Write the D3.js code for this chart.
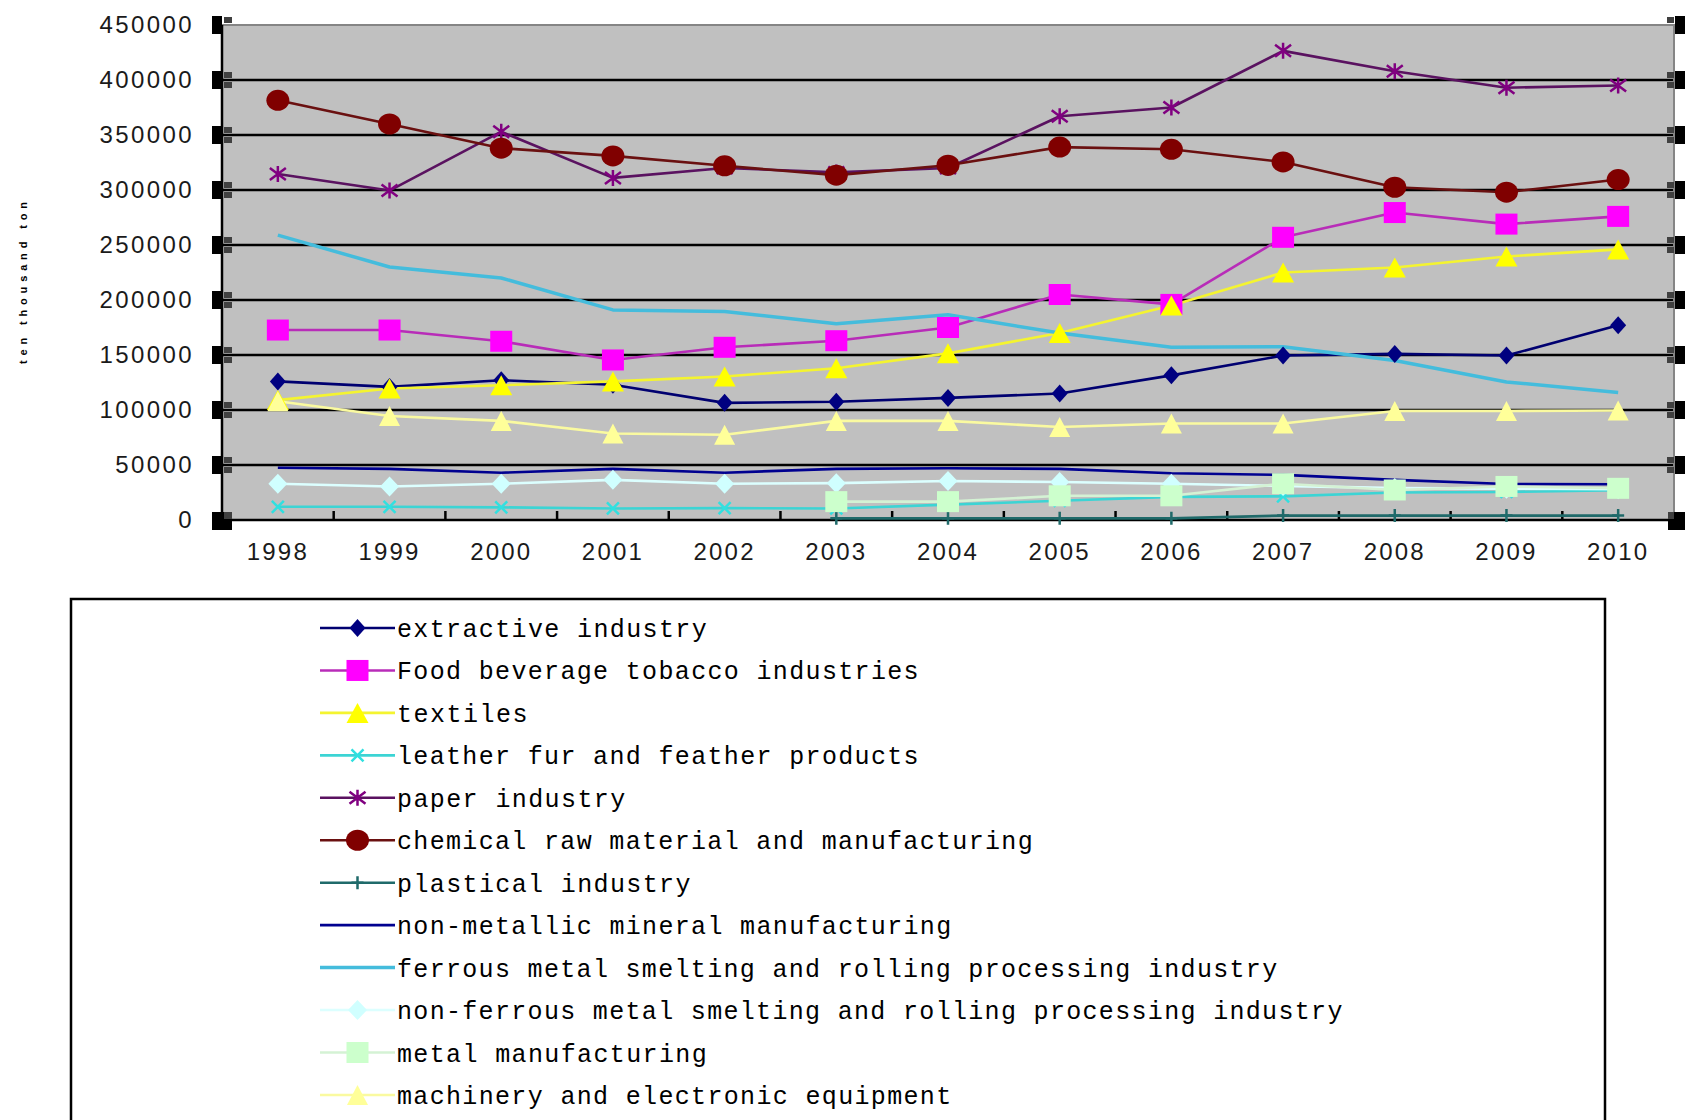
<!DOCTYPE html>
<html>
<head>
<meta charset="utf-8">
<script src="https://cdn.jsdelivr.net/npm/d3@7"></script>
<style>
  html, body { margin: 0; padding: 0; background: #ffffff; }
  svg { display: block; }
</style>
</head>
<body>
<svg id="chart" width="1688" height="1120"></svg>
<script>
// ---- data: output by industry, ten thousand ton, 1998-2010 ----
const years = ["1998", "1999", "2000", "2001", "2002", "2003", "2004",
               "2005", "2006", "2007", "2008", "2009", "2010"];

const extractive  = [126000, 121000, 127000, 123000, 106500, 107500, 111000, 115000, 131500, 149500, 151000, 149500, 177000];
const foodBevTob  = [172700, 172700, 162500, 145500, 157000, 163000, 175000, 205000, 196000, 257000, 279500, 269000, 276000];
const textiles    = [109000, 119500, 122500, 126000, 130500, 138000, 151500, 170000, 195000, 225000, 229500, 239500, 246000];
const leather     = [12000, 12000, 11500, 10500, 10800, 10500, 14000, 17500, 21000, 21500, 25000, 25500, 27000];
const paper       = [314500, 299500, 353000, 311000, 320000, 316000, 320000, 367000, 375000, 426500, 408000, 393000, 395000];
const chemical    = [381500, 360000, 338000, 331000, 322000, 313500, 322500, 339000, 337000, 325500, 302500, 298000, 309500];
const plastical   = [null, null, null, null, null, 1500, 1500, 1500, 1500, 4000, 4000, 4000, 4000];
const nonMetallic = [47500, 46500, 43000, 46500, 43000, 46500, 47000, 46500, 42500, 41000, 36500, 32700, 32500];
const ferrous     = [259000, 230000, 220000, 191000, 189500, 178500, 186500, 170000, 157000, 157500, 145000, 125500, 116000];
const nonFerrous  = [33000, 30500, 33000, 36500, 33000, 33500, 35500, 34500, 33000, 31000, 29000, 28500, 28000];
const metalMfg    = [null, null, null, null, null, 16700, 16700, 22000, 22000, 33000, 27300, 30500, 28800];
const machinery   = [108000, 94600, 90100, 78700, 77500, 90100, 90100, 84500, 87700, 87700, 99100, 99100, 99500];

const seriesNames = [
  "extractive industry",
  "Food beverage tobacco industries",
  "textiles",
  "leather fur and feather products",
  "paper industry",
  "chemical raw material and manufacturing",
  "plastical industry",
  "non-metallic mineral manufacturing",
  "ferrous metal smelting and rolling processing industry",
  "non-ferrous metal smelting and rolling processing industry",
  "metal manufacturing",
  "machinery and electronic equipment"
];
const seriesValues = [extractive, foodBevTob, textiles, leather, paper, chemical,
                      plastical, nonMetallic, ferrous, nonFerrous, metalMfg, machinery];

const yTickValues = [0, 50000, 100000, 150000, 200000, 250000, 300000, 350000, 400000, 450000];
const yAxisTitle = "ten thousand ton";

// ---- appearance of each series ----
const looks = [
  { line: "#000070", mark: "#000080", shape: "diamond",  w: 16, h: 18, lw: 2.6 },
  { line: "#b82cb8", mark: "#ff00ff", shape: "square",   w: 22, h: 21, lw: 2.6 },
  { line: "#f4f430", mark: "#ffff00", shape: "triangle", w: 22, h: 20, lw: 2.6 },
  { line: "#3cd4d4", mark: "#30e0e0", shape: "cross",    w: 12, h: 12, lw: 2.6 },
  { line: "#5a1260", mark: "#800080", shape: "asterisk", w: 16, h: 16, lw: 2.6 },
  { line: "#6a1010", mark: "#800000", shape: "circle",   w: 23, h: 21, lw: 2.6 },
  { line: "#1f6a6a", mark: "#1f6a6a", shape: "plus",     w: 12, h: 13, lw: 2.6 },
  { line: "#000090", mark: "#000090", shape: "none",     w: 0,  h: 0,  lw: 2.6 },
  { line: "#44bcdc", mark: "#44bcdc", shape: "none",     w: 0,  h: 0,  lw: 3.5 },
  { line: "#dcffff", mark: "#d0ffff", shape: "diamond",  w: 19, h: 20, lw: 2.6 },
  { line: "#d4f2d4", mark: "#ccffcc", shape: "square",   w: 22, h: 21, lw: 2.6 },
  { line: "#fafaa0", mark: "#ffff99", shape: "triangle", w: 21, h: 20, lw: 2.6 }
];

// ---- layout ----
const P = { left: 222, right: 1674, top: 25, bottom: 520 };
const svg = d3.select("#chart");

const x = d3.scaleBand().domain(years).range([P.left, P.right]).padding(0);
const y = d3.scaleLinear().domain([0, 450000]).range([P.bottom, P.top]);
const cx = yr => x(yr) + x.bandwidth() / 2;

// plot area
svg.append("rect")
  .attr("x", P.left).attr("y", P.top)
  .attr("width", P.right - P.left).attr("height", P.bottom - P.top)
  .attr("fill", "#c0c0c0");

// horizontal gridlines
svg.append("g").selectAll("line")
  .data(yTickValues.filter(v => v > 0 && v < 450000))
  .join("line")
  .attr("x1", P.left).attr("x2", P.right)
  .attr("y1", d => y(d)).attr("y2", d => y(d))
  .attr("stroke", "#000").attr("stroke-width", 2.5);

// plot border (top and right)
svg.append("path")
  .attr("d", `M${P.left},${y(450000)}H${P.right}V${P.bottom}`)
  .attr("fill", "none").attr("stroke", "#858585").attr("stroke-width", 2);

// y axis labels
const yAxis = d3.axisLeft(y).tickValues(yTickValues).tickSize(0).tickPadding(28)
  .tickFormat(d3.format("d"));
const gy = svg.append("g").attr("transform", `translate(${P.left},0)`).call(yAxis);
gy.select(".domain").remove();
gy.selectAll("text")
  .attr("font-family", "'Liberation Sans', Arial, sans-serif")
  .attr("font-size", 24)
  .attr("letter-spacing", 2.4)
  .attr("fill", "#1a1a1a");

// x axis labels
const xAxis = d3.axisBottom(x).tickSize(0).tickPadding(23);
const gx = svg.append("g").attr("transform", `translate(0,${P.bottom})`).call(xAxis);
gx.select(".domain").remove();
gx.selectAll("text")
  .attr("font-family", "'Liberation Sans', Arial, sans-serif")
  .attr("font-size", 24)
  .attr("letter-spacing", 2.2)
  .attr("fill", "#1a1a1a");

// axis lines
svg.append("line")
  .attr("x1", P.left).attr("x2", P.left).attr("y1", P.top).attr("y2", P.bottom)
  .attr("stroke", "#000").attr("stroke-width", 2.5);
svg.append("line")
  .attr("x1", P.left).attr("x2", P.right).attr("y1", P.bottom).attr("y2", P.bottom)
  .attr("stroke", "#000").attr("stroke-width", 2.5);

// category separator ticks on the x axis (pointing into the plot)
svg.append("g").selectAll("line")
  .data(years.slice(1))
  .join("line")
  .attr("x1", d => x(d)).attr("x2", d => x(d))
  .attr("y1", P.bottom).attr("y2", P.bottom - 9)
  .attr("stroke", "#000").attr("stroke-width", 2.5);

// selection handles along the value axis and the right edge
const handles = svg.append("g");
yTickValues.forEach(v => {
  const ty = y(v);
  if (v === 0) {
    handles.append("rect").attr("x", 212).attr("y", ty - 8).attr("width", 20).attr("height", 18).attr("fill", "#000");
    handles.append("rect").attr("x", 224).attr("y", ty - 8).attr("width", 8).attr("height", 7).attr("fill", "#404040");
    handles.append("rect").attr("x", 1668).attr("y", ty - 8).attr("width", 17).attr("height", 18).attr("fill", "#000");
    handles.append("rect").attr("x", 1668).attr("y", ty - 8).attr("width", 6).attr("height", 7).attr("fill", "#404040");
    return;
  }
  handles.append("rect").attr("x", 212).attr("y", ty - 9).attr("width", 10).attr("height", 18).attr("fill", "#000");
  handles.append("rect").attr("x", 224).attr("y", ty - 8).attr("width", 8).attr("height", 6).attr("fill", "#404040");
  if (v !== 450000) {
    handles.append("rect").attr("x", 224).attr("y", ty + 2).attr("width", 8).attr("height", 6).attr("fill", "#404040");
  }
  handles.append("rect").attr("x", 1675).attr("y", ty - 9).attr("width", 10).attr("height", 18).attr("fill", "#000");
  handles.append("rect").attr("x", 1667).attr("y", ty - 8).attr("width", 7).attr("height", 6).attr("fill", "#404040");
  if (v !== 450000) {
    handles.append("rect").attr("x", 1667).attr("y", ty + 2).attr("width", 7).attr("height", 6).attr("fill", "#404040");
  }
});

// y axis title
svg.append("text")
  .attr("transform", "translate(27,283) rotate(-90)")
  .attr("text-anchor", "middle")
  .attr("font-family", "'Liberation Sans', Arial, sans-serif")
  .attr("font-size", 11).attr("font-weight", "bold")
  .attr("textLength", 162).attr("lengthAdjust", "spacing")
  .attr("fill", "#000")
  .text(yAxisTitle);

// ---- marker drawing ----
function drawMarker(g, lk, px, py) {
  const w = lk.w, h = lk.h;
  if (lk.shape === "none") return;
  if (lk.shape === "circle") {
    g.append("ellipse").attr("cx", px).attr("cy", py).attr("rx", w / 2).attr("ry", h / 2).attr("fill", lk.mark);
  } else if (lk.shape === "square") {
    g.append("rect").attr("x", px - w / 2).attr("y", py - h / 2).attr("width", w).attr("height", h).attr("fill", lk.mark);
  } else if (lk.shape === "diamond") {
    g.append("path").attr("d", `M${px},${py - h / 2}L${px + w / 2},${py}L${px},${py + h / 2}L${px - w / 2},${py}Z`).attr("fill", lk.mark);
  } else if (lk.shape === "triangle") {
    g.append("path").attr("d", `M${px},${py - h / 2}L${px + w / 2},${py + h / 2}L${px - w / 2},${py + h / 2}Z`).attr("fill", lk.mark);
  } else if (lk.shape === "cross") {
    g.append("path").attr("d", `M${px - w / 2},${py - h / 2}L${px + w / 2},${py + h / 2}M${px - w / 2},${py + h / 2}L${px + w / 2},${py - h / 2}`)
      .attr("stroke", lk.mark).attr("stroke-width", 2.5).attr("fill", "none");
  } else if (lk.shape === "asterisk") {
    g.append("path").attr("d",
      `M${px},${py - h / 2}L${px},${py + h / 2}` +
      `M${px - w / 2},${py - h / 2 + 2}L${px + w / 2},${py + h / 2 - 2}` +
      `M${px - w / 2},${py + h / 2 - 2}L${px + w / 2},${py - h / 2 + 2}`)
      .attr("stroke", lk.mark).attr("stroke-width", 2.5).attr("fill", "none");
  } else if (lk.shape === "plus") {
    g.append("path").attr("d", `M${px},${py - h / 2}L${px},${py + h / 2}M${px - w / 2},${py}L${px + w / 2},${py}`)
      .attr("stroke", lk.mark).attr("stroke-width", 2.5).attr("fill", "none");
  }
}

// ---- series lines, then markers on top ----
const line = d3.line()
  .defined(d => d.v !== null)
  .x(d => cx(d.yr))
  .y(d => y(d.v));

const linesG = svg.append("g");
const marksG = svg.append("g");
seriesValues.forEach((vals, i) => {
  const pts = vals.map((v, k) => ({ yr: years[k], v: v }));
  linesG.append("path")
    .attr("d", line(pts))
    .attr("fill", "none")
    .attr("stroke", looks[i].line)
    .attr("stroke-width", looks[i].lw)
    .attr("stroke-linejoin", "round");
});
seriesValues.forEach((vals, i) => {
  vals.forEach((v, k) => {
    if (v === null) return;
    drawMarker(marksG, looks[i], cx(years[k]), y(v));
  });
});

// ---- legend ----
const L = { x: 71, y: 599, w: 1534, h: 560, row0: 628, step: 42.45, lx1: 320, lx2: 395, tx: 397, charW: 16.3 };
const lg = svg.append("g");
lg.append("rect")
  .attr("x", L.x).attr("y", L.y).attr("width", L.w).attr("height", L.h)
  .attr("fill", "#fff").attr("stroke", "#000").attr("stroke-width", 2.5);

seriesNames.forEach((name, i) => {
  const ry = L.row0 + i * L.step;
  const lk = looks[i];
  lg.append("line")
    .attr("x1", L.lx1).attr("x2", L.lx2).attr("y1", ry).attr("y2", ry)
    .attr("stroke", lk.line).attr("stroke-width", lk.lw);
  drawMarker(lg, lk, (L.lx1 + L.lx2) / 2, ry);
  lg.append("text")
    .attr("x", L.tx).attr("y", ry)
    .attr("dy", "0.36em")
    .attr("font-family", "'Liberation Mono', 'DejaVu Sans Mono', monospace")
    .attr("font-size", 25)
    .attr("textLength", name.length * L.charW)
    .attr("lengthAdjust", "spacing")
    .attr("fill", "#000")
    .text(name);
});
</script>
</body>
</html>
